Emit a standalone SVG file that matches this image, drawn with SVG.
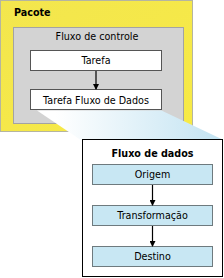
<svg xmlns="http://www.w3.org/2000/svg" width="224" height="278" viewBox="0 0 224 278">
<style>
text{font-family:"DejaVu Sans",Verdana,sans-serif;font-size:9.6px;fill:#000;text-anchor:middle}
.b{font-weight:bold}
.task{fill:#fff;stroke:#555;stroke-width:1}
.comp{fill:#c8e7f3;stroke:#6e7a7e;stroke-width:1}
.ar{stroke:#000;stroke-width:1.2;fill:none}
</style>
<defs>
<linearGradient id="yg" x1="0" y1="0" x2="1" y2="1">
<stop offset="0" stop-color="#f3e64e"/><stop offset="1" stop-color="#f7ea45"/>
</linearGradient>
<linearGradient id="zg" x1="0" y1="0" x2="1" y2="0">
<stop offset="0.1" stop-color="#ffffff"/><stop offset="1" stop-color="#c2e3f2"/>
</linearGradient>
<marker id="ah" markerWidth="6" markerHeight="6" refX="5" refY="3" orient="auto" markerUnits="userSpaceOnUse">
<path d="M0,0 L6,3 L0,6 z" fill="#000"/>
</marker>
</defs>
<g id="pacote">
<rect x="0.5" y="0.5" width="192" height="131" fill="url(#yg)" stroke="#b5b5a0"/>
<text x="14" y="16" class="b" style="text-anchor:start">Pacote</text>
</g>
<g id="fluxo-controle">
<rect x="13.5" y="27.5" width="170" height="96" fill="#d3d3d3" stroke="#a3a3a3"/>
<text x="97" y="40">Fluxo de controle</text>
</g>
<g id="tarefa">
<rect x="30.5" y="50.5" width="131" height="20" class="task"/>
<text x="96" y="64">Tarefa</text>
</g>
<g id="tarefa-fluxo">
<rect x="30.5" y="89.5" width="131" height="20" class="task"/>
<text x="96" y="104">Tarefa Fluxo de Dados</text>
</g>
<g id="zoom">
<polygon points="37,110.5 161.5,110.5 222.5,139.5 80,139.5" fill="url(#zg)"/>
</g>
<g id="fluxo-dados">
<rect x="82.5" y="139.5" width="140" height="137" fill="#fff" stroke="#000"/>
<text x="152.5" y="157" class="b">Fluxo de dados</text>
</g>
<g id="origem">
<rect x="92.5" y="164.5" width="120" height="20" class="comp"/>
<text x="152.5" y="178">Origem</text>
</g>
<g id="transformacao">
<rect x="92.5" y="205.5" width="120" height="20" class="comp"/>
<text x="152.5" y="219">Transformação</text>
</g>
<g id="destino">
<rect x="92.5" y="246.5" width="120" height="20" class="comp"/>
<text x="152.5" y="260">Destino</text>
</g>
<g id="connectors">
<line x1="96" y1="71" x2="96" y2="89" class="ar" marker-end="url(#ah)"/>
<line x1="152.5" y1="185" x2="152.5" y2="205" class="ar" marker-end="url(#ah)"/>
<line x1="152.5" y1="226" x2="152.5" y2="246" class="ar" marker-end="url(#ah)"/>
</g>
</svg>
